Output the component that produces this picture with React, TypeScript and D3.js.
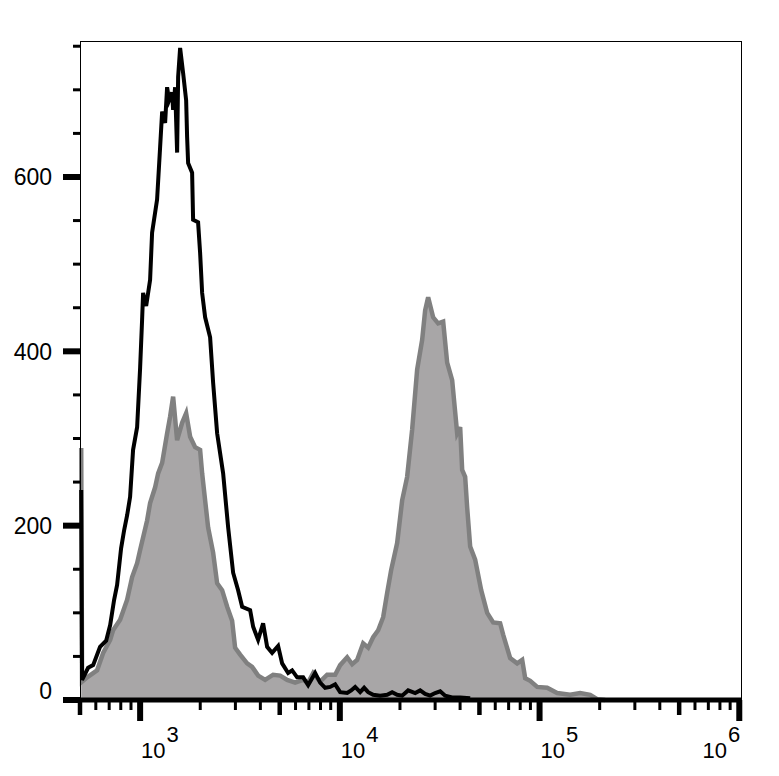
import React, { useEffect } from "react";
import * as d3 from "d3";

// ---- data (intensity, event count) ----
const controlIntensity = [
  507, 512, 549, 582, 630, 676, 708, 741, 767, 803, 832, 861, 891, 922, 966, 1000,
  1023, 1035, 1072, 1122, 1148, 1216, 1259, 1289, 1334, 1365, 1397, 1446, 1463, 1497,
  1532, 1550, 1586, 1642, 1700, 1719, 1739, 1821, 1842, 1951, 1997, 2044, 2116, 2241,
  2320, 2430, 2604, 2759, 2922, 3095, 3242, 3555, 3681, 3898, 4129, 4325, 4581, 4909,
  5141, 5510, 5770, 6111, 6550, 6939, 7521, 7968, 8443, 8942, 9473, 10035, 10879,
  11395, 11931, 12637, 13236, 13862, 14684, 15917, 17257, 18277, 19362, 20512, 21979,
  23834, 25240, 26738, 28325, 30004, 31793, 33674, 36504, 40033, 44931,
];
const controlCount = [
  241, 23, 37, 40, 61, 68, 86, 115, 132, 174, 195, 212, 233, 287, 313, 381,
  436, 467, 452, 482, 536, 574, 634, 675, 662, 703, 688, 697, 677, 703,
  628, 715, 748, 719, 688, 646, 616, 605, 551, 548, 513, 467, 439, 416,
  364, 306, 260, 198, 146, 126, 107, 103, 84, 69, 88, 61, 54, 62,
  42, 31, 34, 26, 26, 17, 31, 20, 14, 15, 18, 9, 8,
  11, 15, 9, 14, 9, 6, 5, 6, 9, 6, 5, 11,
  8, 11, 7, 5, 8, 10, 5, 3, 3, 2,
];

const stainedIntensity = [
  507, 512, 543, 609, 653, 708, 732, 794, 861, 912, 966, 1000, 1084, 1122, 1189, 1231,
  1289, 1365, 1413, 1463, 1532, 1623, 1700, 1780, 1885, 1997, 2044, 2116, 2190, 2320,
  2430, 2574, 2728, 2888, 2990, 3168, 3434, 3638, 3898, 4226, 4634, 5024, 5447, 5973,
  6550, 6939, 7351, 7968, 8639, 9473, 10035, 10879, 11526, 12206, 13083, 13862, 14684,
  15556, 16478, 17257, 18067, 19362, 20512, 21727, 23014, 24384, 25830, 26738, 27682,
  29322, 31061, 32913, 34465, 36504, 38673, 40033, 40966, 42407, 43395, 44931, 47587,
  51011, 54660, 58571, 63473, 65707, 71248, 77241, 81848, 84724, 89738, 97275, 109165,
  122470, 142298, 159698, 179227, 194264, 213108,
];
const stainedCount = [
  289, 21, 26, 34, 54, 69, 80, 92, 115, 141, 157, 172, 206, 226, 244, 260,
  272, 306, 325, 348, 298, 318, 329, 302, 290, 287, 260, 229, 198, 169,
  134, 126, 107, 91, 60, 52, 42, 38, 28, 23, 29, 28, 23, 20,
  23, 20, 31, 21, 29, 29, 40, 49, 41, 46, 65, 60, 72,
  80, 95, 123, 149, 180, 229, 256, 310, 379, 413, 447, 462,
  439, 432, 434, 387, 367, 306, 313, 264, 256, 221, 176, 161,
  126, 100, 89, 88, 75, 48, 42, 46, 25, 22, 15, 14,
  8, 6, 8, 6, 1, 0,
];

// ---- axis ----
const xDecades = [1e3, 1e4, 1e5, 1e6];
const xDecadeExponents = ["3", "4", "5", "6"];
const yMajorTicks = [0, 200, 400, 600];
const yMajorLabels = ["0", "200", "400", "600"];
const yMinorTicks = [50, 100, 150, 250, 300, 350, 450, 500, 550, 650, 700, 750];

const W = 779;
const H = 776;
const left = 80;
const right = 741;
const top = 41;
const bottom = 700;

export default function App() {
  useEffect(() => {
    document.body.style.margin = "0";
  }, []);

  const x = d3.scaleLog().domain([500, 1.02e6]).range([left, right]);
  const y = d3.scaleLinear().domain([0, 756]).range([bottom, top]);

  const stained = stainedIntensity.map((v, i) => [v, stainedCount[i]] as [number, number]);
  const control = controlIntensity.map((v, i) => [v, controlCount[i]] as [number, number]);

  const area = d3
    .area<[number, number]>()
    .x((d) => x(d[0]))
    .y0(y(0))
    .y1((d) => y(d[1]));
  const line = d3
    .line<[number, number]>()
    .x((d) => x(d[0]))
    .y((d) => y(d[1]));

  const xTicks = x.ticks();
  const font = "'Liberation Sans', Arial, sans-serif";

  return (
    <svg width={W} height={H} style={{ display: "block", background: "#fff" }}>
      <rect x={0} y={0} width={W} height={H} fill="#fff" />
      {/* stained (filled) */}
      <path d={area(stained) || ""} fill="#a8a6a7" stroke="none" />
      <path d={line(stained) || ""} fill="none" stroke="#808080" strokeWidth={4.5} />
      {/* control (black outline) */}
      <path d={line(control) || ""} fill="none" stroke="#000" strokeWidth={4} />

      {/* frame */}
      <line x1={left + 0.5} x2={left + 0.5} y1={top} y2={bottom} stroke="#000" strokeWidth={1} />
      <line x1={left} x2={right + 0.5} y1={top + 0.5} y2={top + 0.5} stroke="#000" strokeWidth={1} />
      <line x1={right + 0.5} x2={right + 0.5} y1={top} y2={bottom} stroke="#000" strokeWidth={1} />
      <line x1={left} x2={right + 1} y1={bottom} y2={bottom} stroke="#000" strokeWidth={5} />

      {/* x ticks */}
      {xTicks.map((t, i) => {
        const m = Math.round(t / Math.pow(10, Math.floor(Math.log10(t) + 1e-9)));
        const major = m === 1;
        const mid = m === 5;
        const len = major ? 21 : mid ? 15 : 10;
        const w = major ? 6 : mid ? 4.5 : 3;
        return (
          <line key={i} x1={x(t)} x2={x(t)} y1={bottom} y2={bottom + len} stroke="#000" strokeWidth={w} />
        );
      })}
      {xDecades.map((t, i) => {
        const last = i === xDecades.length - 1;
        return (
          <text
            key={"xl" + i}
            x={x(t) + 1}
            y={758}
            fontFamily={font}
            fontSize={22}
            textAnchor={last ? "end" : "start"}
            fill="#000"
          >
            <tspan>10</tspan>
            <tspan dy={-16} dx={1}>{xDecadeExponents[i]}</tspan>
          </text>
        );
      })}

      {/* y ticks */}
      {yMinorTicks.map((t, i) => (
        <line key={"ym" + i} x1={left - 7} x2={left} y1={y(t)} y2={y(t)} stroke="#000" strokeWidth={3} />
      ))}
      {yMajorTicks.map((t, i) => (
        <line key={"yM" + i} x1={left - 17} x2={left} y1={y(t)} y2={y(t)} stroke="#000" strokeWidth={6} />
      ))}
      {yMajorTicks.map((t, i) => (
        <text
          key={"yl" + i}
          x={52}
          y={y(t) + 8.5 - (t === 0 ? 10 : 0)}
          fontFamily={font}
          fontSize={23}
          textAnchor="end"
          fill="#000"
        >
          {yMajorLabels[i]}
        </text>
      ))}
    </svg>
  );
}
